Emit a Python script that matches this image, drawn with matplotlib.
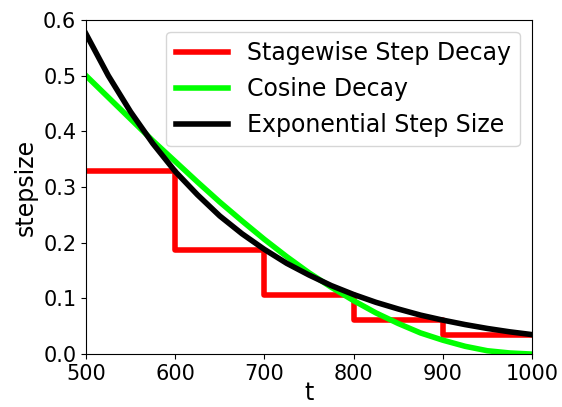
import numpy as np
import matplotlib
matplotlib.use("Agg")
import matplotlib.pyplot as plt

# step decay: value held on each stage [500,600), [600,700), ...
stage_t = [500, 600, 700, 800, 900, 1000]
stage_lr = [0.328, 0.187, 0.107, 0.061, 0.035, 0.035]

# smooth curves, every 25 steps
t = [500, 525, 550, 575, 600, 625, 650, 675, 700, 725, 750,
     775, 800, 825, 850, 875, 900, 925, 950, 975, 1000]
cos_lr = [0.500, 0.461, 0.422, 0.383, 0.346, 0.309, 0.273, 0.239, 0.206, 0.175, 0.146,
          0.120, 0.096, 0.074, 0.055, 0.038, 0.025, 0.014, 0.006, 0.002, 0.000]
exp_lr = [0.575, 0.500, 0.435, 0.378, 0.328, 0.286, 0.248, 0.216, 0.188, 0.163, 0.142,
          0.123, 0.107, 0.093, 0.081, 0.070, 0.061, 0.053, 0.046, 0.040, 0.035]

fig = plt.figure(figsize=(5.62, 4.07), dpi=100)
ax = fig.add_axes([0.153, 0.130, 0.7936, 0.821])

ax.plot(stage_t, stage_lr, color="red", lw=4, drawstyle="steps-post",
        label="Stagewise Step Decay")
ax.plot(t, cos_lr, color="lime", lw=4, label="Cosine Decay")
ax.plot(t, exp_lr, color="black", lw=4, label="Exponential Step Size")

ax.set_xlim(500, 1000)
ax.set_ylim(0, 0.6)
ax.set_xticks([500, 600, 700, 800, 900, 1000])
ax.set_yticks([0.0, 0.1, 0.2, 0.3, 0.4, 0.5, 0.6])
ax.tick_params(labelsize=15)
ax.set_xlabel("t", fontsize=17, labelpad=-2)
ax.set_ylabel("stepsize", fontsize=17)
ax.legend(loc="upper right", fontsize=17, handlelength=2.2)

fig.savefig("out.png", dpi=100)
